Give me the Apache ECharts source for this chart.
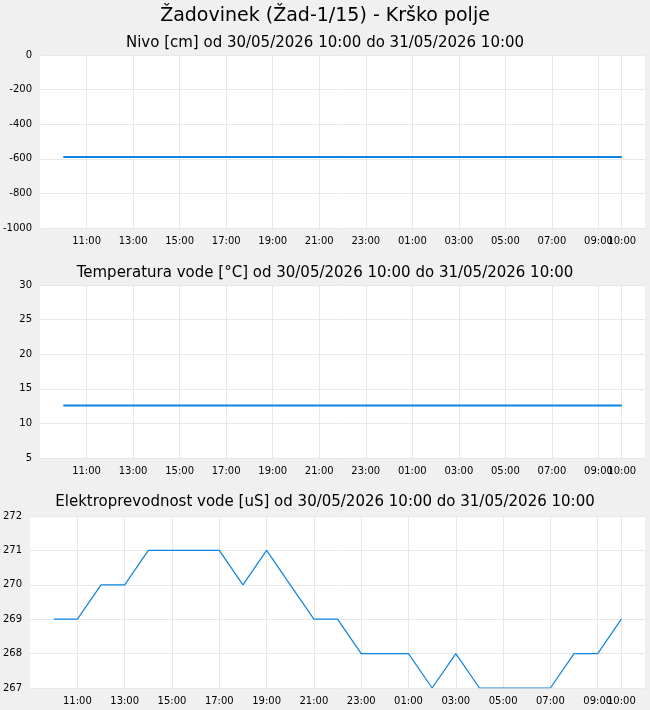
<!DOCTYPE html>
<html><head><meta charset="utf-8">
<script src="https://cdn.jsdelivr.net/npm/echarts@6/dist/echarts.min.js"></script>
<style>html,body{margin:0;background:#f0f0f0}#c{width:650px;height:710px}</style>
</head><body><div id="c"></div>
<script>
const categories = ['09:00','10:00','11:00','12:00','13:00','14:00','15:00','16:00','17:00','18:00','19:00','20:00','21:00','22:00','23:00','00:00','01:00','02:00','03:00','04:00','05:00','06:00','07:00','08:00','09:00','10:00','11:00'];
const nivo = [null,-590,-590,-590,-590,-590,-590,-590,-590,-590,-590,-590,-590,-590,-590,-590,-590,-590,-590,-590,-590,-590,-590,-590,-590,-590,null];
const temperatura = [null,12.6,12.6,12.6,12.6,12.6,12.6,12.6,12.6,12.6,12.6,12.6,12.6,12.6,12.6,12.6,12.6,12.6,12.6,12.6,12.6,12.6,12.6,12.6,12.6,12.6,null];
const prevodnost = [null,269,269,270,270,271,271,271,271,270,271,270,269,269,268,268,268,267,268,267,267,267,267,268,268,269,null];
const labelIdx = i => (i>=2 && i<=24 && i%2===0) || i===25;
const chart = echarts.init(document.getElementById('c'));
const grids = [{left:40,right:5,top:55,height:173},{left:40,right:5,top:285,height:173},{left:30,right:5,top:516,height:172}];
const xa = grids.map((g,i)=>({type:'category',gridIndex:i,data:categories,boundaryGap:false,
  axisLine:{show:false},axisTick:{show:false},
  axisLabel:{interval:0,hideOverlap:false,formatter:(v,idx)=>labelIdx(idx)?v:'',fontSize:10,color:'#000',fontFamily:'DejaVu Sans'},
  splitLine:{show:true,interval:(idx)=>labelIdx(idx),lineStyle:{color:'#e8e8e8'}}}));
const yspec=[[-1000,0,200],[5,30,5],[267,272,1]];
const ya = yspec.map((s,i)=>({type:'value',gridIndex:i,min:s[0],max:s[1],interval:s[2],
  axisLabel:{fontSize:10,color:'#000',fontFamily:'DejaVu Sans',formatter:v=>String(v)},axisLine:{show:false},axisTick:{show:false},
  splitLine:{lineStyle:{color:'#e8e8e8'}}}));
const ts={fontFamily:'DejaVu Sans',fontWeight:'normal',color:'#000'};
chart.setOption({
  animation:false,
  backgroundColor:'#f0f0f0',
  title:[
    {text:'Žadovinek (Žad-1/15) - Krško polje',left:'center',top:2,textStyle:{...ts,fontSize:19}},
    {text:'Nivo [cm] od 30/05/2026 10:00 do 31/05/2026 10:00',left:'center',top:31,textStyle:{...ts,fontSize:15}},
    {text:'Temperatura vode [°C] od 30/05/2026 10:00 do 31/05/2026 10:00',left:'center',top:261,textStyle:{...ts,fontSize:15}},
    {text:'Elektroprevodnost vode [uS] od 30/05/2026 10:00 do 31/05/2026 10:00',left:'center',top:490,textStyle:{...ts,fontSize:15}}
  ],
  grid:grids.map(g=>({...g,show:true,backgroundColor:'#fff',borderWidth:0})),
  xAxis:xa, yAxis:ya,
  series:[
    {type:'line',xAxisIndex:0,yAxisIndex:0,data:nivo,showSymbol:false,lineStyle:{color:'#0a84e0',width:2}},
    {type:'line',xAxisIndex:1,yAxisIndex:1,data:temperatura,showSymbol:false,lineStyle:{color:'#0a84e0',width:2}},
    {type:'line',xAxisIndex:2,yAxisIndex:2,data:prevodnost,showSymbol:false,lineStyle:{color:'#0a84e0',width:1.2}}
  ]
});
</script></body></html>
